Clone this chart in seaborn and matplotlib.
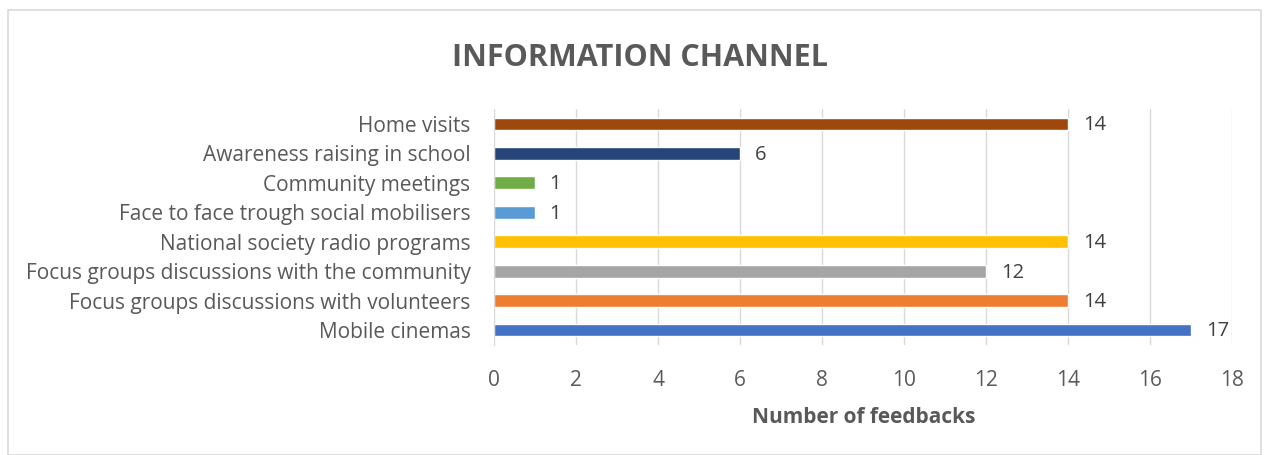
import pandas as pd
import seaborn as sns
import matplotlib.pyplot as plt

# Data (top to bottom)
channels = [
    'Home visits',
    'Awareness raising in school',
    'Community meetings',
    'Face to face trough social mobilisers',
    'National society radio programs',
    'Focus groups discussions with the community',
    'Focus groups discussions with volunteers',
    'Mobile cinemas',
]
feedbacks = [14, 6, 1, 1, 14, 12, 14, 17]
colors = ['#9E480E', '#264478', '#70AD47', '#5B9BD5',
          '#FFC000', '#A5A5A5', '#ED7D31', '#4472C4']
x_ticks = [0, 2, 4, 6, 8, 10, 12, 14, 16, 18]

df = pd.DataFrame({'Channel': channels, 'Feedbacks': feedbacks})

sns.set_style('white')
plt.rcParams['font.family'] = ['Open Sans', 'DejaVu Sans']

fig = plt.figure(figsize=(12.64, 4.55), dpi=100)
ax = fig.add_axes([0.391, 0.2424, 0.584, 0.5174])

sns.barplot(data=df, y='Channel', x='Feedbacks', hue='Channel',
            palette=colors, orient='h', width=0.44, saturation=1,
            legend=False, ax=ax)

# Value labels at the bar ends
for i, v in enumerate(feedbacks):
    ax.text(v + 0.35, i + 0.05, str(v), va='center', ha='left',
            fontsize=14.5, color='#404040')

ax.set_xlim(0, 18)
ax.set_xticks(x_ticks)
ax.xaxis.grid(True, color='#d9d9d9', linewidth=1)
ax.set_axisbelow(True)
ax.tick_params(axis='both', length=0, labelsize=15, colors='#595959')
ax.tick_params(axis='x', pad=18)
ax.tick_params(axis='y', pad=17)
for s in ['top', 'right', 'bottom']:
    ax.spines[s].set_visible(False)
ax.spines['left'].set_color('#d9d9d9')

ax.set_ylabel('')
ax.set_xlabel('Number of feedbacks', fontsize=15, fontweight='bold',
              color='#595959', labelpad=12)

fig.suptitle('INFORMATION CHANNEL', fontsize=22, fontweight='bold',
             color='#595959', x=0.506, y=0.905)

# Chart border
fig.patches.append(plt.Rectangle((0.006, 0.0), 0.992, 0.977, transform=fig.transFigure,
                                 fill=False, edgecolor='#d9d9d9', linewidth=1.2))

plt.savefig('out.png', dpi=100)
